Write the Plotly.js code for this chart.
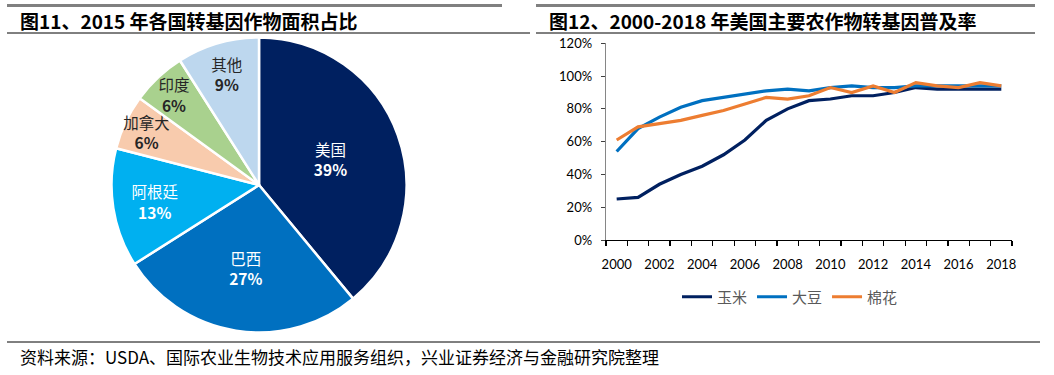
<!DOCTYPE html>
<html>
<head>
<meta charset="utf-8">
<script src="https://cdn.plot.ly/plotly-3.0.1.min.js"></script>
<style>
html,body{margin:0;padding:0;background:#fff;}
#chart{width:1054px;height:375px;}
</style>
</head>
<body>
<div id="chart"></div>
<script>
// Pie data: 2015 GM crop area share by country
const pieLabels = ['美国', '巴西', '阿根廷', '加拿大', '印度', '其他'];
const pieValues = [39, 27, 13, 6, 6, 9];
const pieColors = ['#002060', '#0070C0', '#00B0F0', '#F8CBAD', '#A9D18E', '#BDD7EE'];
const pieTextColors = ['#ffffff', '#ffffff', '#ffffff', '#262626', '#262626', '#262626'];

// Line data: US GM adoption rate 2000-2018
const years = [2000, 2001, 2002, 2003, 2004, 2005, 2006, 2007, 2008, 2009, 2010, 2011, 2012, 2013, 2014, 2015, 2016, 2017, 2018];
const corn =    [0.25, 0.26, 0.34, 0.40, 0.45, 0.52, 0.61, 0.73, 0.80, 0.85, 0.86, 0.88, 0.88, 0.90, 0.93, 0.92, 0.92, 0.92, 0.92];
const soybean = [0.54, 0.68, 0.75, 0.81, 0.85, 0.87, 0.89, 0.91, 0.92, 0.91, 0.93, 0.94, 0.93, 0.93, 0.94, 0.94, 0.94, 0.94, 0.94];
const cotton =  [0.61, 0.69, 0.71, 0.73, 0.76, 0.79, 0.83, 0.87, 0.86, 0.88, 0.93, 0.90, 0.94, 0.90, 0.96, 0.94, 0.93, 0.96, 0.94];
const seriesNames = ['玉米', '大豆', '棉花'];
const seriesColors = ['#002060', '#0070C0', '#ED7D31'];
const xTickYears = [2000, 2002, 2004, 2006, 2008, 2010, 2012, 2014, 2016, 2018];

const title1 = '图11、2015 年各国转基因作物面积占比';
const title2 = '图12、2000-2018 年美国主要农作物转基因普及率';
const footer = '资料来源：USDA、国际农业生物技术应用服务组织，兴业证券经济与金融研究院整理';

const W = 1054, H = 375;
const px = x => x / W;
const py = y => 1 - y / H;

const CJK = '"Noto Sans CJK SC", "Noto Sans", sans-serif';
const NUM = 'Lato, "Noto Sans", sans-serif';

const traces = [
  {
    type: 'pie',
    labels: pieLabels,
    values: pieValues,
    sort: false,
    direction: 'clockwise',
    rotation: 0,
    domain: {x: [px(111.5), px(406.5)], y: [py(332.5), py(37.5)]},
    marker: {colors: pieColors, line: {color: '#ffffff', width: 2.5}},
    texttemplate: '%{label}<br><b>%{value}%</b>',
    textposition: 'inside',
    insidetextorientation: 'horizontal',
    insidetextfont: {family: CJK, size: 15.5, color: pieTextColors},
    hoverinfo: 'none',
    showlegend: false
  }
];
const lineData = [corn, soybean, cotton];
lineData.forEach((ys, i) => {
  traces.push({
    type: 'scatter',
    mode: 'lines',
    x: years,
    y: ys,
    name: seriesNames[i],
    line: {color: seriesColors[i], width: 3.2},
    xaxis: 'x',
    yaxis: 'y',
    showlegend: true
  });
});

const layout = {
  width: W,
  height: H,
  margin: {l: 0, r: 0, t: 0, b: 0},
  paper_bgcolor: '#ffffff',
  plot_bgcolor: '#ffffff',
  showlegend: true,
  uniformtext: {mode: 'show', minsize: 15.5},
  xaxis: {
    domain: [px(606), px(1012)],
    anchor: 'y',
    range: [1999.5, 2018.5],
    tickvals: xTickYears,
    ticktext: xTickYears.map(String),
    ticks: '',
    showgrid: false,
    zeroline: false,
    showline: true,
    linecolor: '#000000',
    linewidth: 1.3,
    tickfont: {family: NUM, size: 13, color: '#000000'},
    ticklabelstandoff: 12,
    minor: {tick0: 1999.5, dtick: 1, ticks: 'outside', ticklen: 5, tickcolor: '#000000', tickwidth: 1.3, showgrid: false},
    fixedrange: true
  },
  yaxis: {
    domain: [py(240), py(43.3)],
    anchor: 'x',
    range: [0, 1.2],
    dtick: 0.2,
    tick0: 0,
    tickformat: '.0%',
    ticks: 'outside',
    ticklen: 4,
    tickcolor: '#404040',
    showgrid: false,
    zeroline: false,
    showline: true,
    linecolor: '#868686',
    linewidth: 1.3,
    tickfont: {family: NUM, size: 13, color: '#000000'},
    ticklabelstandoff: 6,
    fixedrange: true
  },
  legend: {
    orientation: 'h',
    x: px(790),
    xanchor: 'center',
    y: py(297),
    yanchor: 'middle',
    font: {family: CJK, size: 15, color: '#595959'},
    itemwidth: 30,
    tracegroupgap: 0,
    bgcolor: 'rgba(0,0,0,0)'
  },
  shapes: [
    {type: 'line', xref: 'paper', yref: 'paper', x0: px(7), x1: px(502), y0: py(5.5), y1: py(5.5), line: {color: '#808080', width: 3}},
    {type: 'line', xref: 'paper', yref: 'paper', x0: px(536), x1: px(1035), y0: py(5.5), y1: py(5.5), line: {color: '#808080', width: 3}},
    {type: 'line', xref: 'paper', yref: 'paper', x0: px(7), x1: px(530), y0: py(33), y1: py(33), line: {color: '#000000', width: 1}},
    {type: 'line', xref: 'paper', yref: 'paper', x0: px(536), x1: px(1035), y0: py(33), y1: py(33), line: {color: '#000000', width: 1}},
    {type: 'line', xref: 'paper', yref: 'paper', x0: px(7), x1: px(1040), y0: py(342), y1: py(342), line: {color: '#000000', width: 1}}
  ],
  annotations: [
    {xref: 'paper', yref: 'paper', x: px(18), y: py(20), xanchor: 'left', yanchor: 'middle', showarrow: false,
     text: '<b>' + title1 + '</b>', font: {family: CJK, size: 19, color: '#000000'}},
    {xref: 'paper', yref: 'paper', x: px(547), y: py(20), xanchor: 'left', yanchor: 'middle', showarrow: false,
     text: '<b>' + title2 + '</b>', font: {family: CJK, size: 19, color: '#000000'}},
    {xref: 'paper', yref: 'paper', x: px(18), y: py(356), xanchor: 'left', yanchor: 'middle', showarrow: false,
     text: footer, font: {family: CJK, size: 17, color: '#000000'}}
  ]
};

Plotly.newPlot('chart', traces, layout, {displayModeBar: false, staticPlot: true});
</script>
</body>
</html>
